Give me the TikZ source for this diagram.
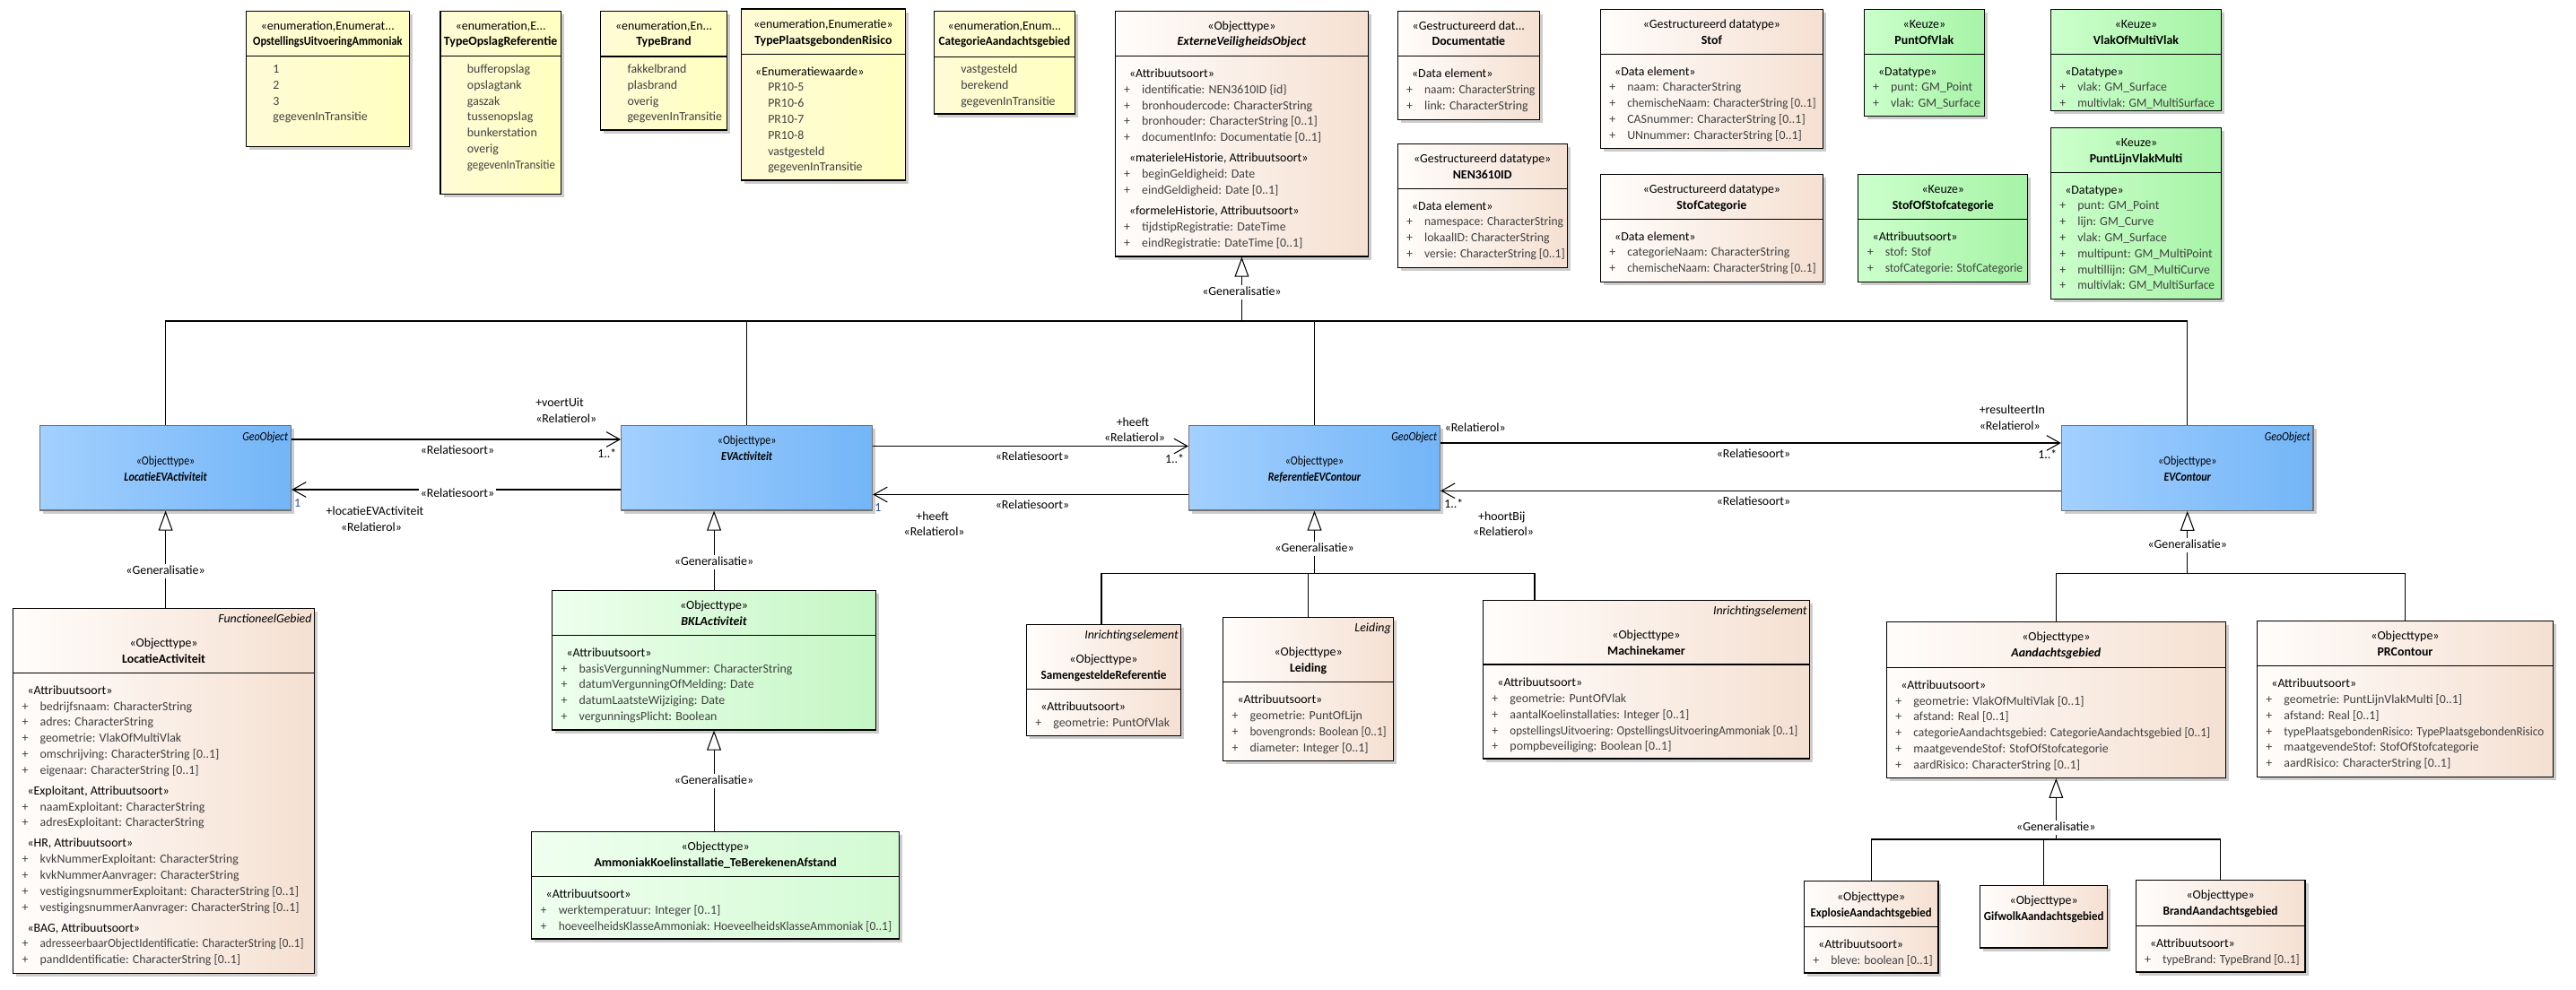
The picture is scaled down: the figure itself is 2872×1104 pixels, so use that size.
\documentclass[tikz,border=0pt]{standalone}
\usepackage{fontspec}
\usepackage{graphicx}
\setmainfont{Carlito}
\newfontfamily\narrowfont{Carlito}[FakeStretch=0.86]
\usetikzlibrary{arrows.meta, positioning, fit, shadows}
\definecolor{cenumL}{HTML}{FFFBD6}
\definecolor{cenumR}{HTML}{FFFFC0}
\definecolor{cobjL}{HTML}{FFFDFB}
\definecolor{cobjR}{HTML}{F5E0D2}
\definecolor{ckeuzeL}{HTML}{CCFFCC}
\definecolor{ckeuzeR}{HTML}{A6F3A6}
\definecolor{cbklL}{HTML}{EEFFEE}
\definecolor{cbklR}{HTML}{C4F6C4}
\definecolor{cammL}{HTML}{F0FFF0}
\definecolor{cammR}{HTML}{D2FAD2}
\definecolor{cgeoL}{HTML}{A3D0FF}
\definecolor{cgeoR}{HTML}{73B5F7}
\definecolor{cattr}{HTML}{404040}
\definecolor{cmult}{HTML}{2E4E9E}
\newcommand\umlsize{\fontsize{7.9}{10.13}\selectfont}
\newcommand\umlsq[2]{\scalebox{#1}[1]{#2}}
\newcommand\umlster[1]{\strut\hspace*{3.4pt}«#1»}
\newcommand\umlattr[1]{\strut\makebox[11.4pt][l]{\textcolor{cattr}{+}}\textcolor{cattr}{#1}}
\newcommand\umllit[1]{\strut\hspace*{11.4pt}\textcolor{cattr}{#1}}
\tikzset{
  every picture/.style={line width=0.6pt, font=\umlsize},
  cls/.style={draw, line width=0.7pt, inner sep=0pt, drop shadow={shadow xshift=2pt, shadow yshift=-2pt, fill=black!20, opacity=1}},
  enumcls/.style={cls, left color=cenumL, right color=cenumR},
  objcls/.style={cls, left color=cobjL, right color=cobjR},
  keuzecls/.style={cls, left color=ckeuzeL, right color=ckeuzeR},
  bklcls/.style={cls, left color=cbklL, right color=cbklR},
  ammcls/.style={cls, left color=cammL, right color=cammR},
  geocls/.style={cls, draw=black!55, left color=cgeoL, right color=cgeoR},
  sep/.style={line width=0.7pt},
  hd/.style={anchor=north, yshift=4.6pt, inner sep=0pt, align=center},
  bd/.style={anchor=north west, xshift=5.7pt, yshift=4.6pt, inner sep=0pt, align=left},
  tag/.style={anchor=east, xshift=-1.7pt, inner sep=0pt, font=\umlsize\itshape, text height=5.5pt, text depth=1.6pt},
  geotxt/.style={inner sep=0pt, font=\narrowfont\umlsize, text height=5.5pt, text depth=1.6pt},
  rel/.style={inner sep=1pt, text height=5.5pt, text depth=1.6pt},
  mult/.style={rel, text=cmult},
  glab/.style={rel, fill=white},
  assoc/.style={-{Straight Barb[length=8.5pt, width=9.5pt]}, line width=0.6pt},
  gen/.style={-{Triangle[length=12.5pt, width=9pt, fill=white]}, line width=0.6pt},
}
\begin{document}
\begin{tikzpicture}[x=0.02cm, y=-0.02cm]
  \useasboundingbox (0,0) rectangle (2872,1104);
  \fill[white] (0,0) rectangle (2872,1104);

  \node[enumcls, fit={(274.5,12.3) (456.2,163.3)}] (opst) {};
  \draw[sep] (opst.west |- 0,62.7) -- (opst.east |- 0,62.7);
  \node[hd] (opst-h) at (opst.north |- 0,28.3) {\strut«enumeration,Enumerat...\\\strut\umlsq{0.89}{\textbf{OpstellingsUitvoeringAmmoniak}}};
  \node[bd] (opst-b) at (opst.west |- 0,76.7) {\umllit{1}\\\umllit{2}\\\umllit{3}\\\umllit{gegevenInTransitie}};

  \node[enumcls, fit={(491,12.3) (625.4,216.7)}] (tops) {};
  \draw[sep] (tops.west |- 0,62.7) -- (tops.east |- 0,62.7);
  \node[hd] (tops-h) at (tops.north |- 0,28.3) {\strut«enumeration,E...\\\strut\textbf{TypeOpslagReferentie}};
  \node[bd] (tops-b) at (tops.west |- 0,76.7) {\umllit{bufferopslag}\\\umllit{opslagtank}\\\umllit{gaszak}\\\umllit{tussenopslag}\\\umllit{bunkerstation}\\\umllit{overig}\\\umllit{\umlsq{0.93}{gegevenInTransitie}}};

  \node[enumcls, fit={(669.6,12.3) (810.5,145)}] (tbr) {};
  \draw[sep] (tbr.west |- 0,63) -- (tbr.east |- 0,63);
  \node[hd] (tbr-h) at (tbr.north |- 0,28.3) {\strut«enumeration,En...\\\strut\textbf{TypeBrand}};
  \node[bd] (tbr-b) at (tbr.west |- 0,76.7) {\umllit{fakkelbrand}\\\umllit{plasbrand}\\\umllit{overig}\\\umllit{gegevenInTransitie}};

  \node[enumcls, fit={(826.3,10) (1009.4,201)}] (tpr) {};
  \draw[sep] (tpr.west |- 0,60.7) -- (tpr.east |- 0,60.7);
  \node[hd] (tpr-h) at (tpr.north |- 0,26.7) {\strut«enumeration,Enumeratie»\\\strut\textbf{TypePlaatsgebondenRisico}};
  \node[bd] (tpr-b) at (tpr.west |- 0,79.3) {\umlster{Enumeratiewaarde}\\\umllit{PR10-5}\\\umllit{PR10-6}\\\umllit{PR10-7}\\\umllit{PR10-8}\\\umllit{vastgesteld}\\\umllit{gegevenInTransitie}};

  \node[enumcls, fit={(1041.3,12.3) (1198.5,127)}] (cag) {};
  \draw[sep] (cag.west |- 0,63.3) -- (cag.east |- 0,63.3);
  \node[hd] (cag-h) at (cag.north |- 0,28.3) {\strut«enumeration,Enum...\\\strut\umlsq{0.95}{\textbf{CategorieAandachtsgebied}}};
  \node[bd] (cag-b) at (cag.west |- 0,76.7) {\umllit{vastgesteld}\\\umllit{berekend}\\\umllit{gegevenInTransitie}};

  \node[objcls, fit={(1243.2,12.3) (1525.7,286)}] (evo) {};
  \draw[sep] (evo.west |- 0,62.7) -- (evo.east |- 0,62.7);
  \node[hd] (evo-h) at (evo.north |- 0,28.3) {\strut«Objecttype»\\\strut\textbf{\textit{ExterneVeiligheidsObject}}};
  \node[bd] (evo-b) at (evo.west |- 0,81.7) {\umlster{Attribuutsoort}\\\umlattr{identificatie: NEN3610ID \{id\}}\\\umlattr{bronhoudercode: CharacterString}\\\umlattr{bronhouder: CharacterString [0..1]}\\\umlattr{documentInfo: Documentatie [0..1]}\\[3pt]\umlster{materieleHistorie, Attribuutsoort}\\\umlattr{beginGeldigheid: Date}\\\umlattr{eindGeldigheid: Date [0..1]}\\[3pt]\umlster{formeleHistorie, Attribuutsoort}\\\umlattr{tijdstipRegistratie: DateTime}\\\umlattr{eindRegistratie: DateTime [0..1]}};

  \node[objcls, fit={(1558.2,12.3) (1716.4,133.3)}] (doc) {};
  \draw[sep] (doc.west |- 0,62.7) -- (doc.east |- 0,62.7);
  \node[hd] (doc-h) at (doc.north |- 0,28.3) {\strut«Gestructureerd dat...\\\strut\textbf{Documentatie}};
  \node[bd] (doc-b) at (doc.west |- 0,81.7) {\umlster{Data element}\\\umlattr{\umlsq{0.97}{naam: CharacterString}}\\\umlattr{link: CharacterString}};

  \node[objcls, fit={(1558.2,160.7) (1747.1,298.3)}] (nen) {};
  \draw[sep] (nen.west |- 0,210.3) -- (nen.east |- 0,210.3);
  \node[hd] (nen-h) at (nen.north |- 0,176.7) {\strut«Gestructureerd datatype»\\\strut\textbf{NEN3610ID}};
  \node[bd] (nen-b) at (nen.west |- 0,229.3) {\umlster{Data element}\\\umlattr{\umlsq{0.97}{namespace: CharacterString}}\\\umlattr{lokaalID: CharacterString}\\\umlattr{\umlsq{0.97}{versie: CharacterString [0..1]}}};

  \node[objcls, fit={(1784.3,10.7) (2032.5,165.3)}] (stof) {};
  \draw[sep] (stof.west |- 0,60.3) -- (stof.east |- 0,60.3);
  \node[hd] (stof-h) at (stof.north |- 0,26.7) {\strut«Gestructureerd datatype»\\\strut\textbf{Stof}};
  \node[bd] (stof-b) at (stof.west |- 0,79.3) {\umlster{Data element}\\\umlattr{naam: CharacterString}\\\umlattr{\umlsq{0.95}{chemischeNaam: CharacterString [0..1]}}\\\umlattr{CASnummer: CharacterString [0..1]}\\\umlattr{UNnummer: CharacterString [0..1]}};

  \node[objcls, fit={(1784.3,194.7) (2032.5,314.7)}] (stc) {};
  \draw[sep] (stc.west |- 0,244.7) -- (stc.east |- 0,244.7);
  \node[hd] (stc-h) at (stc.north |- 0,210.7) {\strut«Gestructureerd datatype»\\\strut\textbf{StofCategorie}};
  \node[bd] (stc-b) at (stc.west |- 0,263.3) {\umlster{Data element}\\\umlattr{categorieNaam: CharacterString}\\\umlattr{\umlsq{0.95}{chemischeNaam: CharacterString [0..1]}}};

  \node[keuzecls, fit={(2078.2,10.7) (2212.5,129.3)}] (pov) {};
  \draw[sep] (pov.west |- 0,60.3) -- (pov.east |- 0,60.3);
  \node[hd] (pov-h) at (pov.north |- 0,26.7) {\strut«Keuze»\\\strut\textbf{PuntOfVlak}};
  \node[bd] (pov-b) at (pov.west |- 0,79.3) {\umlster{Datatype}\\\umlattr{punt: GM\_Point}\\\umlattr{vlak: GM\_Surface}};

  \node[keuzecls, fit={(2071.8,194.7) (2260.7,314.7)}] (sos) {};
  \draw[sep] (sos.west |- 0,244.7) -- (sos.east |- 0,244.7);
  \node[hd] (sos-h) at (sos.north |- 0,210.7) {\strut«Keuze»\\\strut\textbf{StofOfStofcategorie}};
  \node[bd] (sos-b) at (sos.west |- 0,263.3) {\umlster{Attribuutsoort}\\\umlattr{stof: Stof}\\\umlattr{\umlsq{0.96}{stofCategorie: StofCategorie}}};

  \node[keuzecls, fit={(2286.4,10.7) (2476.6,123.3)}] (vomv) {};
  \draw[sep] (vomv.west |- 0,60.3) -- (vomv.east |- 0,60.3);
  \node[hd] (vomv-h) at (vomv.north |- 0,26.7) {\strut«Keuze»\\\strut\textbf{VlakOfMultiVlak}};
  \node[bd] (vomv-b) at (vomv.west |- 0,79.3) {\umlster{Datatype}\\\umlattr{vlak: GM\_Surface}\\\umlattr{\umlsq{0.96}{multivlak: GM\_MultiSurface}}};

  \node[keuzecls, fit={(2286.4,142.7) (2476.6,333.3)}] (plvm) {};
  \draw[sep] (plvm.west |- 0,192.3) -- (plvm.east |- 0,192.3);
  \node[hd] (plvm-h) at (plvm.north |- 0,158.7) {\strut«Keuze»\\\strut\textbf{PuntLijnVlakMulti}};
  \node[bd] (plvm-b) at (plvm.west |- 0,211.3) {\umlster{Datatype}\\\umlattr{punt: GM\_Point}\\\umlattr{lijn: GM\_Curve}\\\umlattr{vlak: GM\_Surface}\\\umlattr{multipunt: GM\_MultiPoint}\\\umlattr{multillijn: GM\_MultiCurve}\\\umlattr{\umlsq{0.96}{multivlak: GM\_MultiSurface}}};

  \node[geocls, fit={(44.6,474.3) (324.6,569)}] (leva) {};
  \node[geotxt, anchor=east, font=\narrowfont\umlsize\itshape] (leva-t) at ([xshift=-2pt]leva.east |- 0,487.7) {GeoObject};
  \node[geotxt] (leva-s) at (leva.center |- 0,515) {«Objecttype»};
  \node[geotxt, font=\narrowfont\umlsize\bfseries\itshape] (leva-n) at (leva.center |- 0,533.3) {LocatieEVActiviteit};

  \node[geocls, fit={(692.7,474.3) (972.6,569)}] (eva) {};
  \node[geotxt] (eva-s) at (eva.center |- 0,491.7) {«Objecttype»};
  \node[geotxt, font=\narrowfont\umlsize\bfseries\itshape] (eva-n) at (eva.center |- 0,510) {EVActiviteit};

  \node[geocls, fit={(1325.5,474.3) (1605.5,569)}] (refc) {};
  \node[geotxt, anchor=east, font=\narrowfont\umlsize\itshape] (refc-t) at ([xshift=-2pt]refc.east |- 0,487.7) {GeoObject};
  \node[geotxt] (refc-s) at (refc.center |- 0,515) {«Objecttype»};
  \node[geotxt, font=\narrowfont\umlsize\bfseries\itshape] (refc-n) at (refc.center |- 0,533.3) {ReferentieEVContour};

  \node[geocls, fit={(2298.4,474.3) (2579,569.3)}] (evc) {};
  \node[geotxt, anchor=east, font=\narrowfont\umlsize\itshape] (evc-t) at ([xshift=-2pt]evc.east |- 0,487.7) {GeoObject};
  \node[geotxt] (evc-s) at (evc.center |- 0,515) {«Objecttype»};
  \node[geotxt, font=\narrowfont\umlsize\bfseries\itshape] (evc-n) at (evc.center |- 0,533.3) {EVContour};

  \node[objcls, fit={(14.7,678.3) (350.4,1085.7)}] (loca) {};
  \draw[sep] (loca.west |- 0,750.7) -- (loca.east |- 0,750.7);
  \node[tag] (loca-t) at (loca.east |- 0,690.7) {FunctioneelGebied};
  \node[hd] (loca-h) at (loca.north |- 0,716.7) {\strut«Objecttype»\\\strut\textbf{LocatieActiviteit}};
  \node[bd] (loca-b) at (loca.west |- 0,769.3) {\umlster{Attribuutsoort}\\\umlattr{bedrijfsnaam: CharacterString}\\\umlattr{adres: CharacterString}\\\umlattr{geometrie: VlakOfMultiVlak}\\\umlattr{omschrijving: CharacterString [0..1]}\\\umlattr{eigenaar: CharacterString [0..1]}\\[3pt]\umlster{Exploitant, Attribuutsoort}\\\umlattr{naamExploitant: CharacterString}\\\umlattr{adresExploitant: CharacterString}\\[3pt]\umlster{HR, Attribuutsoort}\\\umlattr{kvkNummerExploitant: CharacterString}\\\umlattr{kvkNummerAanvrager: CharacterString}\\\umlattr{vestigingsnummerExploitant: CharacterString [0..1]}\\\umlattr{vestigingsnummerAanvrager: CharacterString [0..1]}\\[3pt]\umlster{BAG, Attribuutsoort}\\\umlattr{\umlsq{0.94}{adresseerbaarObjectIdentificatie: CharacterString [0..1]}}\\\umlattr{pandIdentificatie: CharacterString [0..1]}};

  \node[bklcls, fit={(615.7,658.3) (976.4,814)}] (bkl) {};
  \draw[sep] (bkl.west |- 0,708.3) -- (bkl.east |- 0,708.3);
  \node[hd] (bkl-h) at (bkl.north |- 0,674.3) {\strut«Objecttype»\\\strut\textbf{\textit{BKLActiviteit}}};
  \node[bd] (bkl-b) at (bkl.west |- 0,727.3) {\umlster{Attribuutsoort}\\\umlattr{basisVergunningNummer: CharacterString}\\\umlattr{datumVergunningOfMelding: Date}\\\umlattr{datumLaatsteWijziging: Date}\\\umlattr{vergunningsPlicht: Boolean}};

  \node[ammcls, fit={(592.8,927.3) (1002.4,1047)}] (amm) {};
  \draw[sep] (amm.west |- 0,977.3) -- (amm.east |- 0,977.3);
  \node[hd] (amm-h) at (amm.north |- 0,943.3) {\strut«Objecttype»\\\strut\textbf{AmmoniakKoelinstallatie\_TeBerekenenAfstand}};
  \node[bd] (amm-b) at (amm.west |- 0,996.7) {\umlster{Attribuutsoort}\\\umlattr{werktemperatuur: Integer [0..1]}\\\umlattr{\umlsq{0.97}{hoeveelheidsKlasseAmmoniak: HoeveelheidsKlasseAmmoniak [0..1]}}};

  \node[objcls, fit={(1144.4,696.7) (1316.6,820.3)}] (samr) {};
  \draw[sep] (samr.west |- 0,768.3) -- (samr.east |- 0,768.3);
  \node[tag] (samr-t) at (samr.east |- 0,708.7) {Inrichtingselement};
  \node[hd] (samr-h) at (samr.north |- 0,735) {\strut«Objecttype»\\\strut\umlsq{0.95}{\textbf{SamengesteldeReferentie}}};
  \node[bd] (samr-b) at (samr.west |- 0,787.3) {\umlster{Attribuutsoort}\\\umlattr{geometrie: PuntOfVlak}};

  \node[objcls, fit={(1363.6,688.7) (1553.6,848.3)}] (leid) {};
  \draw[sep] (leid.west |- 0,760.3) -- (leid.east |- 0,760.3);
  \node[tag] (leid-t) at (leid.east |- 0,700.7) {Leiding};
  \node[hd] (leid-h) at (leid.north |- 0,726.7) {\strut«Objecttype»\\\strut\textbf{Leiding}};
  \node[bd] (leid-b) at (leid.west |- 0,780) {\umlster{Attribuutsoort}\\\umlattr{geometrie: PuntOfLijn}\\\umlattr{\umlsq{0.95}{bovengronds: Boolean [0..1]}}\\\umlattr{diameter: Integer [0..1]}};

  \node[objcls, fit={(1653.5,669.3) (2017.4,846)}] (mach) {};
  \draw[sep] (mach.west |- 0,741) -- (mach.east |- 0,741);
  \node[tag] (mach-t) at (mach.east |- 0,681.7) {Inrichtingselement};
  \node[hd] (mach-h) at (mach.north |- 0,707.7) {\strut«Objecttype»\\\strut\textbf{Machinekamer}};
  \node[bd] (mach-b) at (mach.west |- 0,760.7) {\umlster{Attribuutsoort}\\\umlattr{geometrie: PuntOfVlak}\\\umlattr{aantalKoelinstallaties: Integer [0..1]}\\\umlattr{\umlsq{0.94}{opstellingsUitvoering: OpstellingsUitvoeringAmmoniak [0..1]}}\\\umlattr{pompbeveiliging: Boolean [0..1]}};

  \node[objcls, fit={(2103.4,693.3) (2481.2,867.3)}] (aand) {};
  \draw[sep] (aand.west |- 0,744.3) -- (aand.east |- 0,744.3);
  \node[hd] (aand-h) at (aand.north |- 0,709.3) {\strut«Objecttype»\\\strut\textbf{\textit{Aandachtsgebied}}};
  \node[bd] (aand-b) at (aand.west |- 0,763.3) {\umlster{Attribuutsoort}\\\umlattr{geometrie: VlakOfMultiVlak [0..1]}\\\umlattr{afstand: Real [0..1]}\\\umlattr{\umlsq{0.97}{categorieAandachtsgebied: CategorieAandachtsgebied [0..1]}}\\\umlattr{maatgevendeStof: StofOfStofcategorie}\\\umlattr{aardRisico: CharacterString [0..1]}};

  \node[objcls, fit={(2516.5,692.3) (2846.4,866.7)}] (prc) {};
  \draw[sep] (prc.west |- 0,742.3) -- (prc.east |- 0,742.3);
  \node[hd] (prc-h) at (prc.north |- 0,708.3) {\strut«Objecttype»\\\strut\textbf{PRContour}};
  \node[bd] (prc-b) at (prc.west |- 0,761.7) {\umlster{Attribuutsoort}\\\umlattr{geometrie: PuntLijnVlakMulti [0..1]}\\\umlattr{afstand: Real [0..1]}\\\umlattr{\umlsq{0.95}{typePlaatsgebondenRisico: TypePlaatsgebondenRisico}}\\\umlattr{maatgevendeStof: StofOfStofcategorie}\\\umlattr{aardRisico: CharacterString [0..1]}};

  \node[objcls, fit={(2011.3,982.3) (2160.9,1085)}] (expl) {};
  \draw[sep] (expl.west |- 0,1033.3) -- (expl.east |- 0,1033.3);
  \node[hd] (expl-h) at (expl.north |- 0,999.3) {\strut«Objecttype»\\\strut\umlsq{0.92}{\textbf{ExplosieAandachtsgebied}}};
  \node[bd] (expl-b) at (expl.west |- 0,1052.3) {\umlster{Attribuutsoort}\\\umlattr{\umlsq{0.97}{bleve: boolean [0..1]}}};

  \node[objcls, fit={(2207.6,987.7) (2349.8,1057)}] (gif) {};
  \node[hd] (gif-h) at (gif.north |- 0,1004) {\strut«Objecttype»\\\strut\umlsq{0.93}{\textbf{GifwolkAandachtsgebied}}};

  \node[objcls, fit={(2381.1,981.7) (2570,1084)}] (brand) {};
  \draw[sep] (brand.west |- 0,1032.3) -- (brand.east |- 0,1032.3);
  \node[hd] (brand-h) at (brand.north |- 0,997.7) {\strut«Objecttype»\\\strut\umlsq{0.96}{\textbf{BrandAandachtsgebied}}};
  \node[bd] (brand-b) at (brand.west |- 0,1051.7) {\umlster{Attribuutsoort}\\\umlattr{\umlsq{0.96}{typeBrand: TypeBrand [0..1]}}};

  \coordinate (b1) at (evo.south |- 0,358);
  \draw (leva.north) |- (b1) -| (evc.north);
  \foreach \n in {eva, refc} \draw (\n.north) -- (\n.north |- b1);
  \draw[gen] (b1) -- (evo.south);
  \node[glab] (g1) at (evo.south |- 0,326) {«Generalisatie»};

  \draw[gen] (loca.north -| leva.south) -- (leva.south);
  \node[glab] (g2) at (leva.south |- 0,636.7) {«Generalisatie»};
  \draw[gen] (bkl.north) -- (bkl.north |- eva.south);
  \node[glab] (g3) at (bkl.north |- 0,626.7) {«Generalisatie»};
  \draw[gen] (amm.north -| bkl.south) -- (bkl.south);
  \node[glab] (g4) at (bkl.south |- 0,870.7) {«Generalisatie»};

  \coordinate (b2) at (refc.south |- 0,639.3);
  \draw (samr.north -| 1228,0) |- (b2) -| (mach.north -| 1711,0);
  \draw (leid.north) -- (leid.north |- b2);
  \draw[gen] (b2) -- (refc.south);
  \node[glab] (g5) at (refc.south |- 0,611.7) {«Generalisatie»};

  \coordinate (b3) at (evc.south |- 0,639.3);
  \draw (aand.north) |- (b3) -| (prc.north);
  \draw[gen] (b3) -- (evc.south);
  \node[glab] (g6) at (evc.south |- 0,607.7) {«Generalisatie»};

  \coordinate (b4) at (aand.south |- 0,936);
  \draw (expl.north) |- (b4) -| (brand.north);
  \draw (gif.north) -- (gif.north |- b4);
  \draw[gen] (b4) -- (aand.south);
  \node[glab] (g7) at (aand.south |- 0,922.7) {«Generalisatie»};

  \draw[assoc] (leva.east |- 0,490) -- (eva.west |- 0,490);
  \draw[assoc] (eva.west |- 0,546) -- (leva.east |- 0,546);
  \draw[assoc] (eva.east |- 0,497.5) -- (refc.west |- 0,497.5);
  \draw[assoc] (refc.west |- 0,551.5) -- (eva.east |- 0,551.5);
  \draw[assoc] (refc.east |- 0,494) -- (evc.west |- 0,494);
  \draw[assoc] (evc.west |- 0,547.3) -- (refc.east |- 0,547.3);

  \node[rel, anchor=west] (r1) at (595,450) {+voertUit};
  \node[rel, anchor=west] (r2) at (595,467.7) {«Relatierol»};
  \node[rel] (r3) at (510,502.7) {«Relatiesoort»};
  \node[rel] (r4) at (676.8,506.7) {1..*};
  \node[rel, fill=white] (r5) at (510,550.7) {«Relatiesoort»};
  \node[mult] (r6) at (331.7,561.7) {1};
  \node[rel] (r7) at (418,570.7) {+locatieEVActiviteit};
  \node[rel] (r8) at (414,589) {«Relatierol»};

  \node[rel] (r9) at (1263,471.7) {+heeft};
  \node[rel] (r10) at (1265,489) {«Relatierol»};
  \node[rel] (r11) at (1151,510) {«Relatiesoort»};
  \node[rel] (r12) at (1309.5,513.3) {1..*};
  \node[rel] (r13) at (1151,564) {«Relatiesoort»};
  \node[mult] (r14) at (979,566.7) {1};
  \node[rel] (r15) at (1039.7,576.7) {+heeft};
  \node[rel] (r16) at (1041.6,594) {«Relatierol»};

  \node[rel] (r17) at (1644.7,477.7) {«Relatierol»};
  \node[rel] (r18) at (1955,507) {«Relatiesoort»};
  \node[rel, anchor=west] (r19) at (2204.5,457.7) {+resulteertIn};
  \node[rel, anchor=west] (r20) at (2204.5,475.7) {«Relatierol»};
  \node[rel] (r21) at (2282.7,508.3) {1..*};
  \node[rel] (r22) at (1955,560) {«Relatiesoort»};
  \node[rel] (r23) at (1620.8,563.3) {1..*};
  \node[rel] (r24) at (1674.3,576.7) {+hoortBij};
  \node[rel] (r25) at (1676,594) {«Relatierol»};
\end{tikzpicture}
\end{document}
